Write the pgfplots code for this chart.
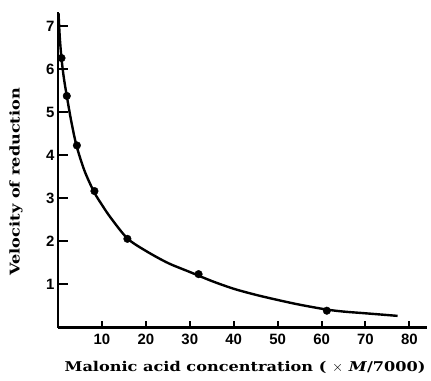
\documentclass[border=0pt]{standalone}
\usepackage{pgfplots}
\pgfplotsset{compat=1.18}
\usepackage{fontspec}
\setmainfont{DejaVu Serif}
\setsansfont{Liberation Sans}
\newfontfamily\labelfont{DejaVu Serif}[FakeStretch=1.2]
\begin{document}
\begin{tikzpicture}
\useasboundingbox (0,0) rectangle (431bp,381bp);
\begin{axis}[
  scale only axis, width=369bp, height=315.5bp,
  at={(58bp,53.5bp)}, anchor=south west,
  xmin=0, xmax=84, ymin=0, ymax=7.33,
  axis x line=bottom, axis y line=left,
  axis line style={-, line width=2.4bp},
  xtick={10,20,...,80}, ytick={1,...,7},
  xtick align=inside, ytick align=inside,
  major tick length=10bp,
  every tick/.style={line width=2bp, black},
  xtick style={/pgfplots/major tick length=6bp},
  ticklabel style={font=\sffamily\bfseries\fontsize{15}{15}\selectfont},
  xticklabel style={yshift=-3bp},
  /pgf/number format/assume math mode=true,
  xlabel={\bfseries Malonic acid concentration ( $\times$ \textit{M}/7000)},
  ylabel={\bfseries Velocity of reduction},
  label style={font=\labelfont\fontsize{13.5}{14}\selectfont},
  xlabel style={at={(axis description cs:0.507,-0.125)}, anchor=center},
  ylabel style={at={(axis description cs:-0.114,0.462)}, anchor=center, rotate=0},
  clip=false,
]
\addplot[black, line width=2.4bp, smooth, tension=0.5] coordinates {
(0.12,7.3) (0.4,6.75) (0.8,6.25) (1.3,5.82) (2,5.38) (3,4.8) (4.2,4.23)
(6,3.65) (8.2,3.15) (10,2.85) (12,2.55) (15.8,2.07) (20,1.78) (25,1.5)
(30,1.29) (35,1.08) (40,0.9) (45,0.76) (50,0.64) (55,0.53) (61,0.42)
(65,0.37) (70,0.33) (77.3,0.27)};
\addplot[only marks, mark=*, mark size=3.8bp, black] coordinates {
(0.8,6.26) (2,5.38) (4.3,4.23) (8.3,3.17) (15.8,2.06) (32,1.24) (61.2,0.39)};
\end{axis}
\end{tikzpicture}
\end{document}
